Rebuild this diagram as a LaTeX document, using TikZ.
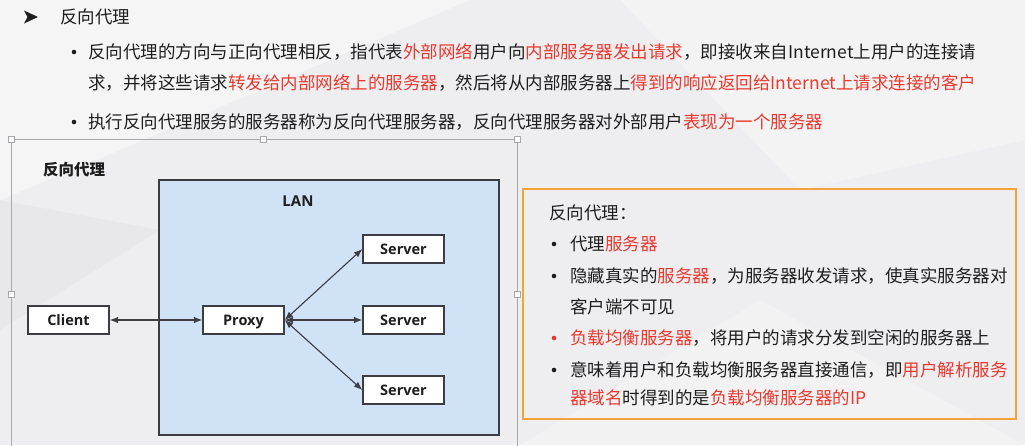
\documentclass[tikz,border=0pt]{standalone}
\usepackage{fontspec}
\setmainfont{Noto Sans CJK SC}
\newfontfamily\labfont{Open Sans}
\usetikzlibrary{arrows.meta}
\definecolor{bg}{HTML}{EEEEF0}
\definecolor{hl}{HTML}{E8392F}
\definecolor{ink}{HTML}{1E1E1E}
\definecolor{lanfill}{HTML}{CFE2F6}
\definecolor{edge}{HTML}{3C3C42}
\definecolor{orangeframe}{HTML}{F4A23C}
\definecolor{selgray}{HTML}{A8A8AC}
\newcommand{\hi}[1]{\textcolor{hl}{#1}}
\tikzset{
  body/.style={anchor=west, inner sep=0pt, text=ink, font=\fontsize{17.5}{20}\selectfont},
  dot/.style={circle, fill=ink, inner sep=0pt, minimum size=4.6pt},
  unit/.style={draw=edge, line width=1.3pt, fill=white, minimum width=81pt, minimum height=28pt,
               inner sep=0pt, text height=11.5pt, text depth=1.5pt,
               font=\labfont\bfseries\fontsize{14.5}{16}\selectfont, text=ink},
  link/.style={draw=edge, line width=1.1pt, {Latex[length=8.5pt,width=6.5pt]}-{Latex[length=8.5pt,width=6.5pt]}},
  handle/.style={draw=selgray, fill=white, line width=0.6pt, minimum size=6pt, inner sep=0pt}
}
\begin{document}
\begin{tikzpicture}[x=1pt,y=-1pt]
\useasboundingbox (0,0) rectangle (1025,445);
\clip (0,0) rectangle (1025,445);
% slide background with faint facets
\fill[bg] (0,0) rectangle (1025,445);
\fill[white,opacity=0.45] (0,0) -- (470,0) -- (120,150) -- (0,200) -- cycle;
\fill[white,opacity=0.30] (620,0) -- (1025,0) -- (1025,140) -- (800,190) -- cycle;
\fill[black,opacity=0.025] (0,200) -- (160,230) -- (0,330) -- cycle;
\fill[white,opacity=0.25] (520,445) -- (760,300) -- (1025,445) -- cycle;

% heading with arrowhead marker
\fill[ink] (24,10.5) -- (38,17) -- (24,23.5) -- (27.5,17) -- cycle;
\node[body] (head) at (60,17) {反向代理};

% first bullet (two lines)
\node[dot] (b1) at (74,52) {};
\node[body] (l1) at (88,52) {反向代理的方向与正向代理相反，指代表\hi{外部网络}用户向\hi{内部服务器发出请求}，即接收来自Internet上用户的连接请};
\node[body] (l2) at (88,83) {求，并将这些请求\hi{转发给内部网络上的服务器}，然后将从内部服务器上\hi{得到的响应返回给Internet上请求连接的客户}};

% second bullet
\node[dot] (b2) at (74,122) {};
\node[body] (l3) at (88,122) {执行反向代理服务的服务器称为反向代理服务器，反向代理服务器对外部用户\hi{表现为一个服务器}};

% selection frame around the diagram
\draw[selgray, line width=0.8pt] (11,139) rectangle (517,460);
\node[handle] (h1) at (11,139) {};
\node[handle] (h2) at (263,139) {};
\node[handle] (h3) at (517,139) {};
\node[handle] (h4) at (11,294) {};
\node[handle] (h5) at (517,294) {};

% diagram
\node[anchor=west, inner sep=0pt, text=ink, font=\bfseries\fontsize{15.5}{18}\selectfont] (dtitle) at (43,170) {反向代理};
\fill[lanfill] (159,180) rectangle (499,435);
\draw[edge, line width=1.3pt] (159,180) rectangle (499,435);
\node[inner sep=0pt, text=ink, font=\labfont\bfseries\fontsize{15}{17}\selectfont] (lan) at (298,201) {LAN};

\node[unit] (client) at (68.5,320) {Client};
\node[unit] (proxy) at (243.5,320) {Proxy};
\node[unit] (s1) at (403.5,249) {Server};
\node[unit] (s2) at (403.5,320) {Server};
\node[unit] (s3) at (403.5,390) {Server};

\draw[link] (client.east) -- (proxy.west);
\draw[link] (proxy.east) -- (s1.west);
\draw[link] (proxy.east) -- (s2.west);
\draw[link] (proxy.east) -- (s3.west);

% summary box
\draw[orangeframe, line width=2pt] (523,189) rectangle (1016,419);
\node[body] (sumhead) at (549,213) {反向代理：};
\node[dot] (c1) at (554,244) {};
\node[body] (t1) at (570,244) {代理\hi{服务器}};
\node[dot] (c2) at (554,276) {};
\node[body] (t2) at (570,276) {隐藏真实的\hi{服务器}，为服务器收发请求，使真实服务器对};
\node[body] (t2b) at (570,307) {客户端不可见};
\node[dot, fill=hl] (c3) at (554,338) {};
\node[body] (t3) at (570,338) {\hi{负载均衡服务器}，将用户的请求分发到空闲的服务器上};
\node[dot] (c4) at (554,370) {};
\node[body] (t4) at (570,370) {意味着用户和负载均衡服务器直接通信，即\hi{用户解析服务}};
\node[body] (t4b) at (570,398) {\hi{器域名}时得到的是\hi{负载均衡服务器的IP}};
\end{tikzpicture}
\end{document}
